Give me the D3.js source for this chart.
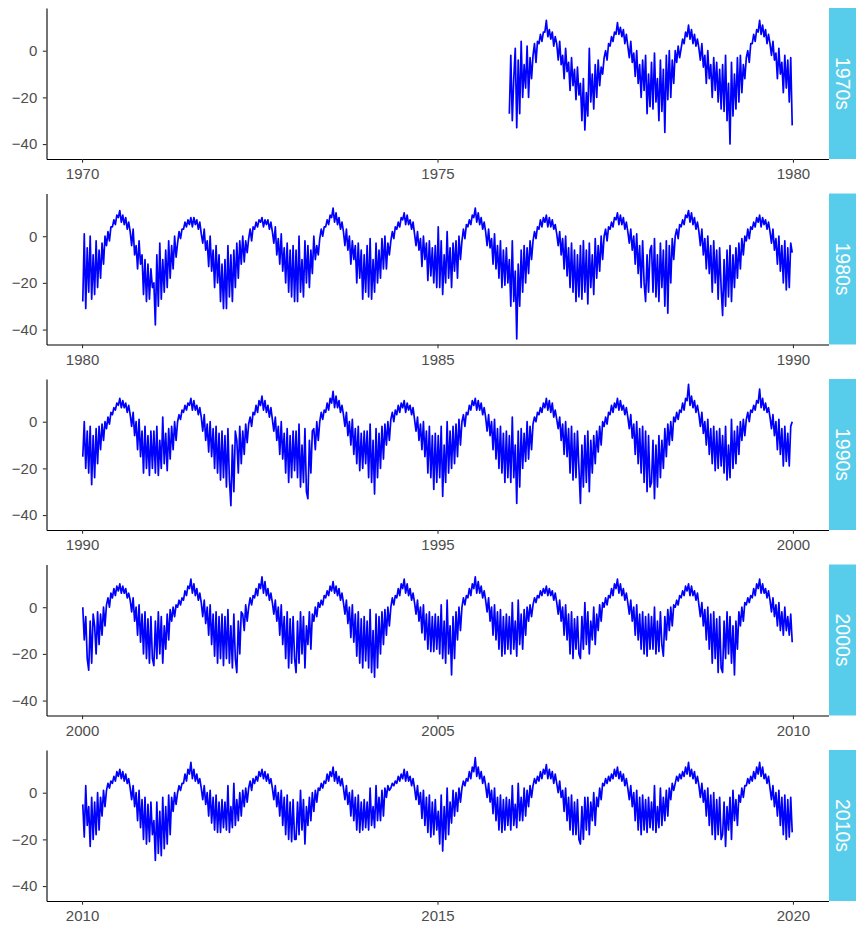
<!DOCTYPE html>
<html>
<head>
<meta charset="utf-8">
<script src="https://cdn.jsdelivr.net/npm/d3@7"></script>
<style>
  body { margin: 0; background: #fff; }
  svg { display: block; font-family: "Liberation Sans", Arial, sans-serif; }
</style>
</head>
<body>
<div id="chart-area"></div>
<script>
// facets: one per decade
var decades = [1970, 1980, 1990, 2000, 2010];
var decadeLabels = ["1970s", "1980s", "1990s", "2000s", "2010s"];
var firstYears = [1976, 1980, 1990, 2000, 2010];
var yTicks = [-40, -20, 0];
var samplesPerYear = 48;

// values, 4 per month (Jan..Dec), one row per year
var t1970s = [
  [-27,-2,-30,-12, 1,-33,-4,-27, 4,-20,-6,-16, 2,-20,-3,-12, -2,3,-5,4, 3,7,4,8, 8,13,6,9, 5,8,2,6, 3,-4,4,-6, -2,-12,1,-9, -5,-17,-3,-15, -8,-21,-7,-19],
  [-14,-30,-12,-34, -18,-28,1,-22, -10,-25,-6,-20, -4,-15,-7,-10, -3,0,-4,3, 2,6,4,8, 7,12,7,10, 6,9,3,7, 2,-3,4,-5, -1,-11,0,-14, -6,-20,-4,-17, -2,-27,-10,-24],
  [-5,-25,-1,-22, -12,-30,-4,-26, -8,-35,-2,-21, 0,-20,-4,-14, 0,-5,2,-3, 1,5,3,8, 6,11,5,9, 3,7,2,5, 1,-4,3,-7, -2,-14,0,-12, -6,-20,-3,-17, -5,-22,-8,-25],
  [-6,-26,-2,-30, -14,-40,-5,-28, -10,-25,-3,-22, -2,-18,-6,-12, -3,0,-5,3, 3,7,4,9, 8,13,7,11, 6,9,3,7, 3,-2,4,-4, -1,-12,1,-10, -5,-18,-2,-16, -4,-22,-3,-32]
];
var t1980s = [
  [-28,1,-31,-5, -24,0,-27,-8, -25,-2,-22,-6, -18,-3,-12,0, -4,2,-2,4, 4,7,5,9, 8,11,6,9, 5,8,3,6, 2,-4,3,-8, -4,-14,-2,-12, -8,-25,-10,-28, -12,-27,-14,-22],
  [-20,-38,-8,-30, -3,-27,-10,-24, -6,-22,-2,-18, -4,-14,0,-9, -3,2,-1,3, 3,6,4,7, 5,8,4,8, 5,7,3,6, 1,-3,3,-6, -2,-13,0,-15, -6,-22,-4,-20, -8,-28,-12,-31],
  [-10,-31,-4,-26, -8,-28,-6,-22, -3,-18,-2,-12, 0,-11,-2,-7, -1,3,-2,4, 3,6,4,7, 6,8,4,7, 5,7,3,6, 2,-3,4,-8, -1,-12,1,-15, -5,-20,-3,-24, -6,-26,-4,-28],
  [-6,-28,0,-24, -10,-26,-2,-20, -4,-22,-6,-16, 0,-10,-4,-8, -1,3,0,4, 4,7,5,9, 8,12,6,10, 5,8,3,6, 2,-4,3,-6, 0,-12,-2,-10, -4,-20,-3,-18, -6,-27,-8,-24],
  [-4,-26,-1,-27, -10,-24,-3,-20, -6,-18,-1,-14, 0,-14,-3,-8, -2,2,-1,4, 3,6,4,8, 7,10,5,9, 5,7,3,6, 1,-4,2,-6, -1,-13,0,-10, -3,-19,-2,-17, -5,-20,-4,-22],
  [4,-22,-2,-25, -8,-20,2,-18, -5,-22,-3,-15, -2,-18,0,-10, -2,3,-1,5, 4,7,5,9, 8,12,6,10, 5,8,3,6, 2,-4,3,-5, -1,-12,1,-14, -4,-18,-2,-22, -6,-21,-5,-20],
  [-10,-30,-2,-28, -15,-44,-12,-30, -6,-24,-4,-20, -5,-16,-2,-10, -2,2,-1,4, 3,7,4,8, 6,9,4,8, 4,7,3,5, 1,-4,2,-8, -1,-14,0,-17, -5,-22,-3,-24, -6,-28,-8,-26],
  [-4,-27,-2,-24, -6,-29,-3,-22, -8,-25,-1,-18, -4,-15,0,-10, 0,3,-2,4, 3,6,4,8, 7,10,5,9, 5,8,3,6, 2,-3,3,-6, 0,-12,1,-16, -4,-22,-2,-20, -28,-8,-24,-6],
  [-4,-24,-1,-26, -8,-28,-3,-22, -6,-30,-2,-33, -4,-20,-1,-10, 0,3,-1,5, 4,7,5,9, 8,11,6,10, 5,8,3,6, 2,-4,3,-8, -1,-14,0,-16, -4,-24,-2,-20, -6,-27,-5,-22],
  [-34,-10,-30,-6, -26,-4,-28,-8, -22,-5,-18,-3, -14,-1,-8,0, -2,3,-1,4, 3,6,4,8, 6,9,4,8, 5,7,3,6, 2,-3,3,-6, -1,-12,0,-15, -4,-20,-2,-23, -5,-22,-3,-7]
];
var t1990s = [
  [-15,0,-20,-4, -22,-2,-27,-6, -24,-3,-18,-2, -12,-1,-8,0, -3,2,-1,4, 3,6,5,8, 7,10,6,9, 6,8,4,7, 3,-2,4,-6, 0,-12,1,-15, -4,-22,-2,-20, -6,-23,-4,-20],
  [-4,-22,-2,-23, -8,-20,2,-18, -5,-21,-3,-16, -2,-12,0,-8, 0,3,1,5, 4,7,5,8, 7,10,5,9, 5,7,3,6, 2,-4,3,-8, -1,-13,0,-15, -3,-20,-2,-22, -5,-25,-4,-24],
  [-6,-28,-3,-25, -36,-10,-30,-4, -8,-22,-2,-18, -4,-14,-1,-9, -1,2,-2,4, 3,7,4,9, 7,11,5,9, 4,7,2,6, 1,-4,2,-8, -2,-14,0,-16, -5,-22,-3,-26, -6,-24,-4,-21],
  [-4,-24,-1,-28, -10,-26,-3,-30, -33,-8,-22,-4, -3,-12,0,-8, 0,4,1,5, 4,8,5,10, 8,13,6,11, 6,9,4,7, 3,-2,4,-6, 0,-10,1,-14, -3,-18,-2,-21, -5,-20,-4,-18],
  [-4,-24,-1,-26, -8,-31,-3,-24, -5,-20,-2,-16, -1,-10,0,-8, 1,4,0,5, 3,7,4,8, 6,9,4,8, 5,7,3,6, 1,-4,2,-8, -1,-12,0,-15, -4,-22,-2,-24, -6,-29,-5,-26],
  [-6,-24,-2,-32, -10,-26,0,-22, -4,-20,-2,-18, -1,-15,1,-10, 0,3,-2,4, 3,7,5,9, 7,10,5,9, 5,8,3,6, 2,-4,3,-6, 0,-12,1,-16, -3,-20,-2,-22, -5,-26,-4,-24],
  [-6,-26,2,-24, -10,-35,-4,-28, -3,-20,-5,-17, 0,-16,-2,-12, -1,2,0,4, 3,6,4,8, 6,10,5,9, 4,8,2,5, 1,-3,2,-8, -1,-14,0,-15, -3,-22,-2,-25, -5,-24,-4,-20],
  [-35,-10,-28,-6, -26,-4,-30,-8, -22,-6,-18,-4, -13,-2,-10,0, -2,2,-1,4, 3,7,4,8, 6,10,5,9, 5,7,3,6, 2,-3,3,-7, -1,-14,0,-18, -3,-22,-2,-26, -4,-30,-6,-28],
  [-26,-8,-33,-10, -28,-6,-24,-8, -20,-3,-15,-1, -10,0,-8,2, 0,4,1,5, 4,8,5,10, 9,16,7,11, 6,9,4,7, 3,-2,4,-5, 0,-10,1,-14, -3,-18,-2,-21, -4,-20,-3,-19],
  [-6,-22,-2,-25, -10,-24,1,-20, -4,-18,-2,-14, 0,-8,1,-6, 1,4,0,5, 4,7,5,9, 8,14,6,10, 5,8,4,6, 2,-3,3,-6, 0,-12,1,-14, -3,-19,-2,-17, -5,-19,-2,0]
];
var t2000s = [
  [0,-14,-4,-22, -27,-6,-24,-3, -8,-20,-2,-16, -3,-12,0,-8, 1,4,0,6, 4,8,5,9, 7,10,6,9, 6,8,4,6, 3,-2,4,-6, 0,-12,1,-15, -3,-20,-2,-22, -5,-24,-4,-22],
  [-25,-6,-22,-2, -20,-4,-24,-8, -18,-3,-14,-1, -6,0,-4,1, 0,3,1,4, 3,7,5,9, 8,12,6,10, 5,8,3,6, 2,-4,3,-7, 0,-12,1,-16, -3,-21,-2,-24, -4,-22,-3,-25],
  [-4,-22,-1,-24, -8,-26,-3,-22, -28,-6,-20,-2, -3,-10,1,-6, 0,4,1,5, 4,8,5,10, 8,13,6,11, 5,8,3,6, 2,-3,3,-6, 0,-12,1,-16, -4,-22,-2,-26, -5,-24,-4,-22],
  [-28,-6,-24,-2, -20,-4,-26,-8, -16,-2,-18,-3, -6,0,-4,2, 0,3,1,5, 4,7,5,9, 7,11,6,9, 5,8,3,6, 2,-3,3,-7, 0,-13,1,-15, -3,-21,-2,-24, -5,-26,-4,-23],
  [-6,-26,-1,-28, -10,-30,-3,-26, -4,-20,-2,-16, -1,-12,0,-8, 0,4,1,5, 4,8,5,10, 8,12,6,10, 5,8,3,6, 2,-3,3,-6, 0,-11,1,-14, -3,-18,-2,-19, -4,-19,-3,-18],
  [-4,-20,1,-22, -6,-24,3,-20, -8,-29,-4,-22, -2,-14,0,-10, 0,4,1,5, 4,8,5,10, 8,13,6,11, 6,9,4,7, 3,-2,4,-6, 0,-12,1,-14, -2,-18,-1,-21, -4,-20,-3,-18],
  [-4,-20,2,-18, -6,-21,3,-16, -3,-18,-1,-12, 0,-6,1,-4, 1,4,2,5, 4,7,5,8, 6,9,5,8, 5,7,3,6, 2,-3,3,-6, 0,-12,1,-14, -3,-20,-2,-22, -5,-18,-4,-20],
  [-22,-4,-18,2, -16,-2,-20,-6, -14,0,-16,-3, -10,1,-6,2, 0,4,1,5, 4,8,5,10, 8,12,6,10, 5,8,3,6, 2,-3,3,-6, 0,-12,1,-14, -3,-18,-2,-20, -4,-21,-3,-18],
  [-4,-18,0,-20, -6,-19,-2,-16, -21,-4,-14,-1, -10,0,-8,1, 0,3,1,5, 4,7,5,9, 7,10,5,9, 5,7,3,6, 1,-4,2,-8, -1,-14,0,-18, -3,-24,-2,-22, -5,-28,-4,-26],
  [-28,-6,-22,-2, -20,-4,-24,-8, -29,-6,-18,-2, -8,0,-6,2, 1,4,2,5, 4,8,5,10, 8,12,6,10, 6,8,4,7, 3,-2,4,-4, 1,-8,2,-10, -2,-12,0,-10, -4,-12,-3,-15]
];
var t2010s = [
  [-5,-19,3,-14, -6,-23,-2,-20, -4,-18,0,-16, -2,-10,1,-6, 1,4,2,5, 4,7,5,9, 7,10,6,9, 5,8,4,6, 2,-3,3,-6, 0,-12,1,-15, -3,-20,-2,-22, -5,-21,-4,-18],
  [-12,-29,-4,-26, -8,-27,-2,-24, -6,-22,-1,-18, -2,-8,0,-5, 0,3,1,4, 4,8,5,10, 8,13,6,10, 5,8,4,6, 2,-3,3,-5, 0,-10,1,-13, -2,-16,-1,-17, -4,-17,-3,-15],
  [-4,-16,3,-17, -6,-15,4,-14, -3,-12,0,-10, 1,-6,2,-4, 2,5,1,6, 4,7,5,9, 7,10,6,9, 5,8,4,6, 2,-3,3,-6, 0,-10,1,-14, -2,-18,-1,-20, -4,-21,-3,-20],
  [-20,-4,-18,1, -16,-3,-22,-6, -14,-2,-12,0, -8,1,-4,2, 1,4,2,5, 4,8,5,9, 7,11,5,9, 4,7,3,6, 2,-3,3,-5, 0,-10,1,-12, -2,-16,-1,-17, -4,-16,-3,-15],
  [-4,-16,2,-14, -6,-15,3,-12, -2,-12,1,-10, 2,-2,3,1, 2,4,3,5, 4,7,5,8, 6,10,5,9, 5,7,3,6, 2,-3,3,-5, 0,-11,1,-14, -2,-17,-1,-19, -4,-18,-3,-16],
  [-8,-22,-1,-25, -6,-20,2,-18, -4,-13,1,-10, 0,-8,2,-4, 2,5,3,6, 5,9,6,11, 9,15,7,11, 6,9,4,7, 3,-2,4,-4, 1,-9,2,-12, -2,-16,-1,-17, -3,-16,-2,-14],
  [-3,-16,3,-14, -5,-15,4,-12, -2,-12,2,-10, 1,-6,3,-2, 3,6,4,7, 5,9,6,10, 8,12,6,10, 6,9,4,8, 4,0,5,-2, 1,-8,2,-12, -2,-16,-1,-18, -4,-18,-3,-20],
  [-22,-6,-20,-2, -16,-2,-18,-4, -12,0,-14,-2, -6,2,-3,4, 3,6,4,7, 5,8,6,10, 7,11,6,9, 5,8,3,6, 2,-3,3,-6, 0,-12,1,-16, -2,-18,-1,-16, -3,-17,-2,-15],
  [-4,-16,3,-17, -6,-15,2,-14, -2,-12,1,-10, 2,-3,4,1, 4,7,5,8, 6,9,7,11, 8,13,7,10, 6,9,4,7, 3,-2,4,-4, 1,-10,2,-14, -1,-18,0,-20, -3,-18,-2,-20],
  [-18,-4,-23,-6, -16,-2,-20,1, -12,-3,-14,-1, -4,2,-2,3, 3,6,4,7, 5,9,6,11, 8,13,7,11, 6,8,4,7, 2,-3,3,-6, 0,-10,1,-14, -2,-18,-1,-20, -3,-19,-2,-17]
];
var series = [t1970s, t1980s, t1990s, t2000s, t2010s];

var width = 856, height = 927;
var plotLeft = 46.5, plotRight = 828.5;
var panelTop = 8, panelHeight = 151, panelStep = 185.5;
var stripX = 829, stripW = 27;

var svg = d3.select("#chart-area").append("svg")
    .attr("width", width)
    .attr("height", height);

var y = d3.scaleLinear().domain([-46.4, 18.3]).range([panelHeight, 0]);

var line = d3.line()
    .x(function(d) { return d.x; })
    .y(function(d) { return d.y; });

decades.forEach(function(dec, i) {
    var g = svg.append("g")
        .attr("transform", "translate(0," + (panelTop + i * panelStep) + ")");

    var x = d3.scaleLinear()
        .domain([dec - 0.5, dec + 10.5])
        .range([plotLeft, plotRight]);

    var pts = [];
    series[i].forEach(function(row, r) {
        row.forEach(function(v, k) {
            var t = firstYears[i] + r + (k + 0.5) / samplesPerYear;
            pts.push({ x: x(t), y: y(v) });
        });
    });

    g.append("path")
        .datum(pts)
        .attr("d", line)
        .attr("fill", "none")
        .attr("stroke", "#0000FF")
        .attr("stroke-width", 1.7)
        .attr("stroke-linejoin", "round");

    var yAxis = g.append("g")
        .attr("transform", "translate(" + plotLeft + ",0)")
        .call(d3.axisLeft(y).tickValues(yTicks).tickSize(3.7).tickSizeOuter(0).tickPadding(5.5));

    var xAxis = g.append("g")
        .attr("transform", "translate(0," + panelHeight + ")")
        .call(d3.axisBottom(x).tickValues([dec, dec + 5, dec + 10]).tickFormat(d3.format("d"))
            .tickSize(3.7).tickSizeOuter(0).tickPadding(6));

    [yAxis, xAxis].forEach(function(ax) {
        ax.select(".domain").attr("stroke", "#000").attr("stroke-width", 1.1);
        ax.selectAll(".tick line").attr("stroke", "#333").attr("stroke-width", 1.1);
        ax.selectAll(".tick text")
            .attr("fill", "#4D4D4D")
            .attr("font-size", "15px")
            .attr("font-family", "Liberation Sans, Arial, sans-serif");
    });

    g.append("rect")
        .attr("x", stripX)
        .attr("y", 0)
        .attr("width", stripW)
        .attr("height", panelHeight)
        .attr("fill", "#58CDEB");

    g.append("text")
        .attr("transform", "translate(" + (stripX + stripW / 2) + "," + (panelHeight / 2) + ") rotate(90)")
        .attr("text-anchor", "middle")
        .attr("dominant-baseline", "central")
        .attr("fill", "#fff")
        .attr("font-size", "19.5px")
        .text(decadeLabels[i]);
});
</script>
</body>
</html>
